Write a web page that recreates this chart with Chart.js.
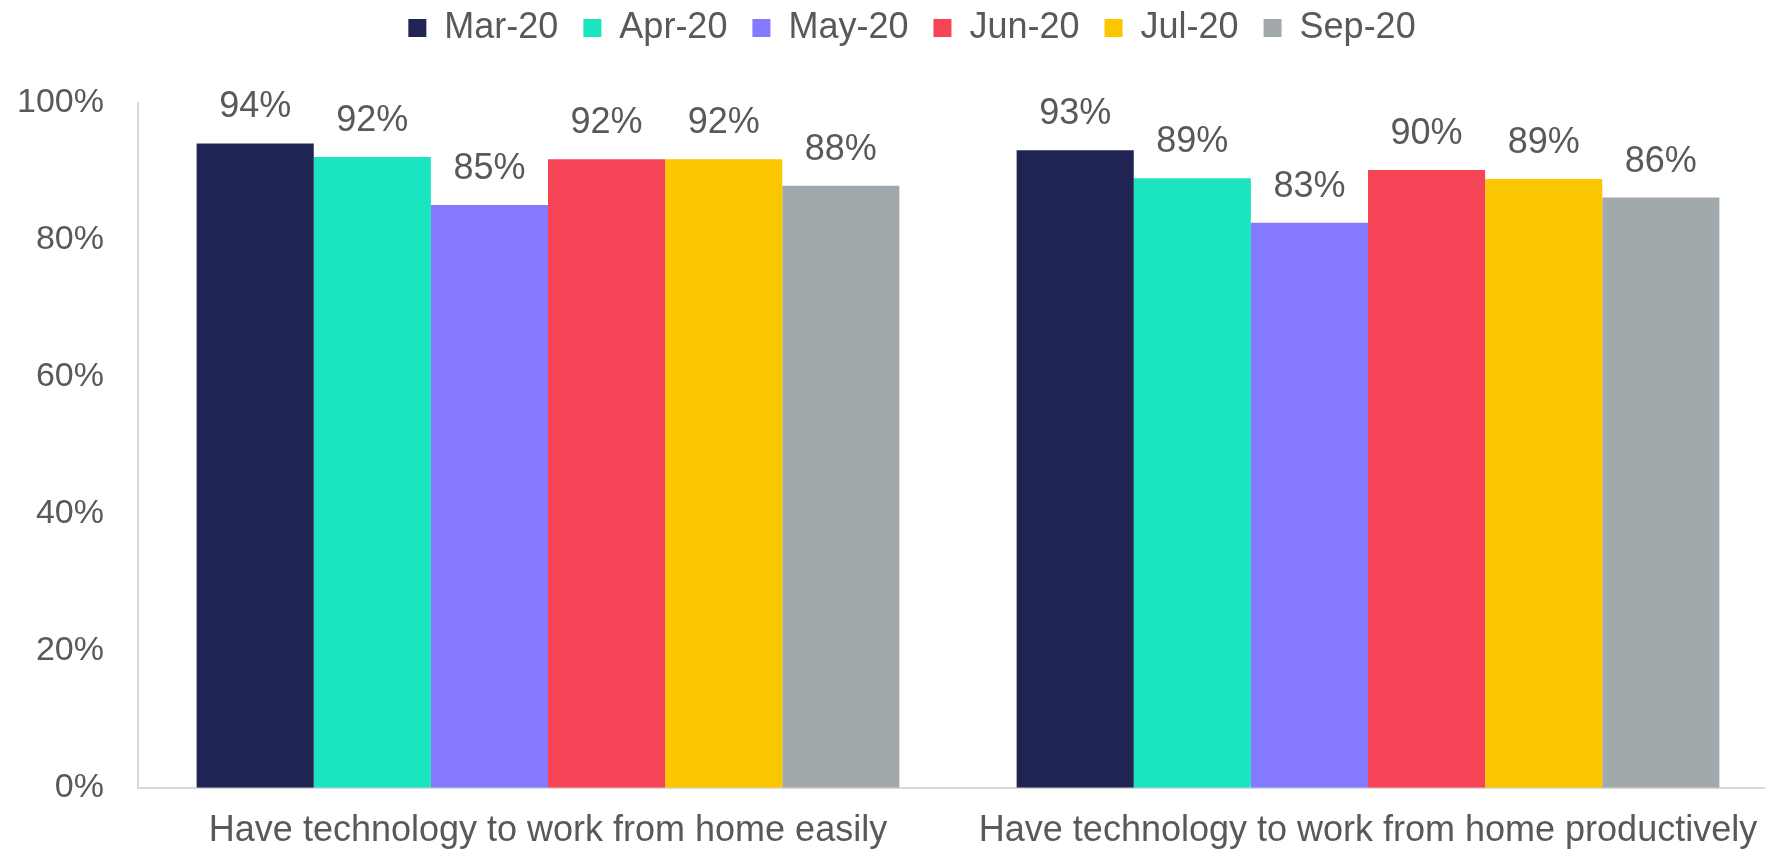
<!DOCTYPE html>
<html>
<head>
<meta charset="utf-8">
<script src="https://cdn.jsdelivr.net/npm/chart.js@4"></script>
<style>
  html, body { margin: 0; padding: 0; background: #fff; overflow: hidden; }
  #wrap { position: absolute; left: 0; top: 0; width: 1790px; height: 851px; }
</style>
</head>
<body>
<div id="wrap"><canvas id="chart"></canvas></div>
<script>
// categories and months
const categories = ['Have technology to work from home easily', 'Have technology to work from home productively'];
const months = ['Mar-20', 'Apr-20', 'May-20', 'Jun-20', 'Jul-20', 'Sep-20'];
const colours = ['#1F2452', '#1BE5C0', '#8479FF', '#F44456', '#FAC700', '#A2A9AD'];

// one small array per month: [easily, productively]
const mar20 = [94.1, 93.1];
const apr20 = [92.1, 89.0];
const may20 = [85.1, 82.5];
const jun20 = [91.8, 90.2];
const jul20 = [91.8, 88.9];
const sep20 = [87.9, 86.2];

const yTicks = [0, 20, 40, 60, 80, 100];

const textGrey = '#595959';
const font = 'Liberation Sans, Arial, sans-serif';

const series = [mar20, apr20, may20, jun20, jul20, sep20];

// draws the % above each bar
const valueLabels = {
    id: 'valueLabels',
    afterDatasetsDraw(chart) {
        const ctx = chart.ctx;
        ctx.save();
        ctx.font = '36px ' + font;
        ctx.fillStyle = textGrey;
        ctx.textAlign = 'center';
        ctx.textBaseline = 'alphabetic';
        chart.data.datasets.forEach((ds, i) => {
            chart.getDatasetMeta(i).data.forEach((bar, j) => {
                ctx.fillText(Math.round(ds.data[j]) + '%', bar.x, bar.y - 26);
            });
        });
        ctx.restore();
    }
};

// extra room under the legend, and nudge it right to sit over the plot
const legendSpacing = {
    id: 'legendSpacing',
    afterInit(chart) {
        const lg = chart.legend;
        const fit = lg.fit.bind(lg);
        lg.fit = function () {
            fit();
            this.height += 47;
        };
    },
    afterLayout(chart) {
        chart.legend.left += 23;
        chart.legend.right += 23;
    }
};

const ctx = document.getElementById('chart');

new Chart(ctx, {
    type: 'bar',
    data: {
        labels: categories,
        datasets: months.map((m, i) => ({
            label: m,
            data: series[i],
            backgroundColor: colours[i],
            borderWidth: 0,
            barPercentage: 1,
            categoryPercentage: 0.857,
        }))
    },
    options: {
        responsive: true,
        maintainAspectRatio: false,
        animation: false,
        layout: {
            padding: { left: 0, right: 12, top: -15, bottom: -24 }
        },
        scales: {
            x: {
                grid: { display: false, drawTicks: false },
                border: { display: true, color: '#d9d9d9', width: 2 },
                ticks: {
                    color: textGrey,
                    font: { family: font, size: 36 },
                    padding: 22,
                    maxRotation: 0,
                    autoSkip: false,
                }
            },
            y: {
                min: 0,
                max: 100,
                afterBuildTicks(axis) {
                    axis.ticks = yTicks.map(v => ({ value: v }));
                },
                afterFit(axis) {
                    axis.width = 138;
                },
                grid: { display: false, drawTicks: false },
                border: { display: true, color: '#d9d9d9', width: 2 },
                ticks: {
                    color: textGrey,
                    font: { family: font, size: 34 },
                    padding: 34,
                    callback: v => v + '%',
                }
            }
        },
        plugins: {
            legend: {
                display: true,
                position: 'top',
                labels: {
                    color: textGrey,
                    font: { family: font, size: 36 },
                    boxWidth: 18,
                    boxHeight: 18,
                    padding: 25,
                }
            },
            tooltip: { enabled: false },
        }
    },
    plugins: [valueLabels, legendSpacing]
});
</script>
</body>
</html>
